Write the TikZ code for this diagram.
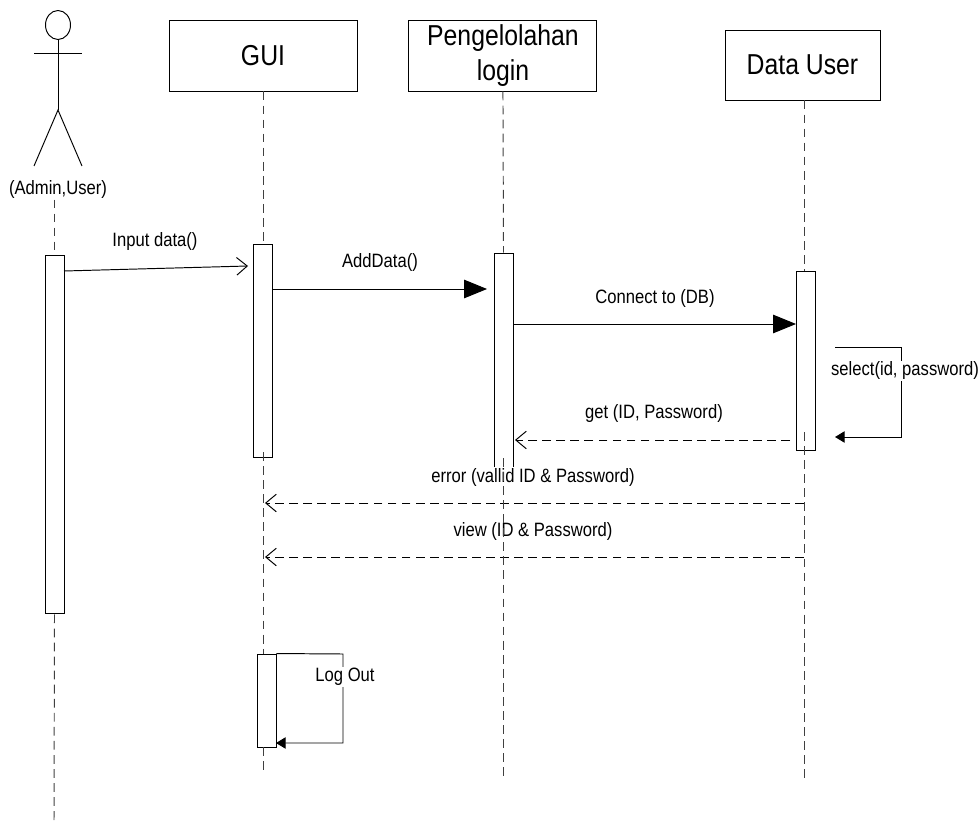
\documentclass[tikz,border=0pt]{standalone}
\usepackage{fontspec}
\setmainfont[FakeStretch=0.86]{Liberation Sans}
\usepackage{xcolor}
\usetikzlibrary{shapes,arrows.meta,positioning}

\begin{document}
\begin{tikzpicture}[x=0.02cm, y=-0.02cm, node distance=4.8cm, line width=0.55pt]
    \tikzstyle{box} = [rectangle, draw=black, align=center, minimum width=3.76cm, minimum height=1.42cm, inner sep=0pt, font=\fontsize{16.4}{20}\selectfont]
    \tikzstyle{bar} = [rectangle, draw=black, fill=white, minimum width=0.38cm, inner sep=0pt]
    \tikzstyle{msg} = [fill=white, inner sep=0.6pt, font=\fontsize{11}{12}\selectfont]
    \tikzstyle{lifeline} = [dash pattern=on 5pt off 3pt, draw=black!75]
    \tikzstyle{call} = [-{Triangle[length=13pt,width=10.5pt]}]
    \tikzstyle{open} = [-{Straight Barb[length=6pt,width=10pt]}]
    \tikzstyle{reply} = [open, dash pattern=on 5pt off 3pt]
    \tikzstyle{selfcall} = [-{Triangle[length=5.5pt,width=6.5pt]}]

    \useasboundingbox (0,0) rectangle (980,824);

    % actor
    \node [circle, draw=black, ellipse, minimum width=0.5cm, minimum height=0.58cm, inner sep=0pt] (head) at (58,25) {};
    \coordinate (hip) at (58,110);
    \coordinate (armleft) at (34,53);
    \coordinate (armright) at (82,53);
    \coordinate (footleft) at (34,166);
    \coordinate (footright) at (82,166);
    \draw (head.south) -- (hip);
    \draw (armleft) -- (armright);
    \draw (footleft) -- (hip) -- (footright);
    \node [msg] (admin) at (58,189) {(Admin,User)};

    % objects
    \node [box] (gui) at (263,55.5) {GUI};
    \node [box, right of=gui] (login) {Pengelolahan\\login};
    \node [box, minimum width=3.1cm, minimum height=1.4cm] (datauser) at (802.5,65) {Data User};

    % activation bars
    \node [bar, minimum height=7.18cm] (actorbar) at (54.5,434.5) {};
    \node [bar, minimum height=4.28cm] (guibar) at (263,351) {};
    \node [bar, minimum height=4.34cm] (loginbar) at (503.5,361.5) {};
    \node [bar, minimum height=3.58cm] (databar) at (805.5,360.5) {};
    \node [bar, minimum height=1.86cm] (logoutbar) at (266.5,700.5) {};

    % lifeline ends
    \coordinate (actorend) at (54,824);
    \coordinate (guimid) at (263,452);
    \coordinate (guilow) at (263,654);
    \coordinate (guitail) at (263,747);
    \coordinate (guiend) at (263,775);
    \coordinate (loginmid) at (503,458);
    \coordinate (loginend) at (503,780);
    \coordinate (datamid) at (804,432);
    \coordinate (dataend) at (804,780);

    % message ends
    \coordinate (inputfrom) at (64,271);
    \coordinate (inputto) at (248,266);
    \coordinate (addfrom) at (272.5,289);
    \coordinate (addto) at (487,289);
    \coordinate (connectfrom) at (514,324);
    \coordinate (connectto) at (796,324);
    \coordinate (selectfrom) at (835,347);
    \coordinate (selecttop) at (901,347);
    \coordinate (selectlow) at (901,437);
    \coordinate (selectto) at (835,437);
    \coordinate (getfrom) at (790,440);
    \coordinate (getto) at (515,440);
    \coordinate (errorfrom) at (804,503);
    \coordinate (errorto) at (265,503);
    \coordinate (viewfrom) at (804,557);
    \coordinate (viewto) at (265,557);
    \coordinate (logouttop) at (343,654);
    \coordinate (logoutlow) at (343,743);
    \coordinate (logoutto) at (276,743);

    \draw [open] (inputfrom) -- (inputto);
    \draw [call] (addfrom) -- (addto);
    \draw [call] (connectfrom) -- (connectto);
    \draw [selfcall] (selectfrom) -- (selecttop) -- (selectlow) -- (selectto);
    \draw [reply] (getfrom) -- (getto);
    \draw [reply] (errorfrom) -- (errorto);
    \draw [reply] (viewfrom) -- (viewto);
    \draw [selfcall] (logoutbar.north east) -- (logouttop) -- (logoutlow) -- (logoutto);

    % labels
    \node [msg] (inputlabel) at (155,242) {Input data()};
    \node [msg] (addlabel) at (380,262) {AddData()};
    \node [msg] (connectlabel) at (655,298) {Connect to (DB)};
    \node [msg] (selectlabel) at (905,371) {select(id, password)};
    \node [msg] (getlabel) at (654,414) {get (ID, Password)};
    \node [msg] (errorlabel) at (533,477) {error (vallid ID \& Password)};
    \node [msg] (viewlabel) at (533,531) {view (ID \& Password)};
    \node [msg] (logoutlabel) at (345,677) {Log Out};

    % lifelines
    \draw [lifeline] (admin.south -| actorbar.north) -- (actorbar.north);
    \draw [lifeline] (actorbar.south) -- (actorend);
    \draw [lifeline] (gui.south) -- (guibar.north);
    \draw [lifeline] (guimid) -- (guilow);
    \draw [lifeline] (guitail) -- (guiend);
    \draw [lifeline] (login.south) -- (loginbar.north);
    \draw [lifeline] (loginmid) -- (loginend);
    \draw [lifeline] (datauser.south -| datamid) -- (datamid |- databar.north);
    \draw [lifeline] (datamid) -- (dataend);
\end{tikzpicture}
\end{document}
